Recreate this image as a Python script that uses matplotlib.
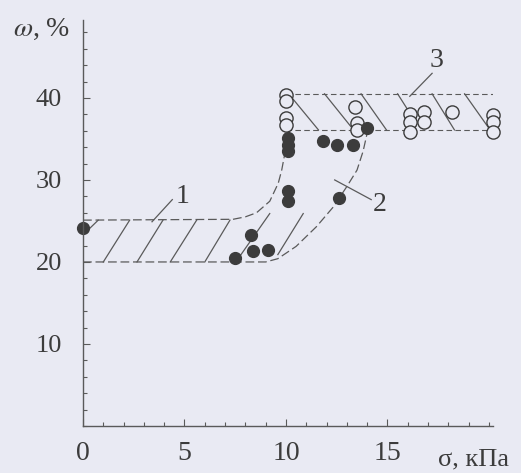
import matplotlib
matplotlib.use("Agg")
import matplotlib.pyplot as plt
from matplotlib.ticker import MultipleLocator
from matplotlib.transforms import blended_transform_factory

plt.rc('font', family='Liberation Serif')
plt.rcParams['mathtext.fontset'] = 'stix'

# measured points (sigma, kPa ; omega, %)
filled_x = [0.0, 7.5, 8.3, 8.4, 9.1, 10.1, 10.1, 10.1, 10.1, 10.1, 11.8, 12.5, 13.3, 14.0, 12.6]
filled_y = [24.1, 20.5, 23.3, 21.3, 21.5, 35.1, 34.3, 33.5, 28.6, 27.4, 34.7, 34.3, 34.3, 36.3, 27.8]

open_x = [10.0, 10.0, 10.0, 10.0, 13.4, 13.5, 13.5, 16.1, 16.1, 16.1, 16.8, 16.8, 18.2, 20.2, 20.2, 20.2]
open_y = [40.4, 39.6, 37.5, 36.7, 38.9, 37.0, 36.1, 38.1, 37.1, 35.9, 38.3, 37.1, 38.3, 37.9, 37.1, 35.9]

# zone 1 + 2 boundaries
upper_x = [0.0, 7.39, 8.0, 8.55, 9.2, 9.62, 9.79, 9.95, 10.05]
upper_y = [25.1, 25.2, 25.5, 26.0, 27.4, 29.6, 31.2, 33.3, 34.9]
lower_x = [0.0, 9.0, 9.6, 10.5, 11.5, 12.33, 13.0, 13.5, 13.8, 14.0]
lower_y = [20.0, 20.0, 20.4, 21.9, 24.3, 26.7, 29.2, 31.2, 33.5, 35.7]

# zone 3 boundaries
zone3_x = [10.0, 20.2]
zone3_top = [40.5, 40.5]
zone3_bot = [36.1, 36.1]

# hatch strokes: (x0, y0, x1, y1)
hatch_12 = [(0.0, 23.3, 0.75, 25.1), (1.0, 20.0, 2.3, 25.1), (2.66, 20.0, 3.94, 25.1),
            (4.3, 20.0, 5.6, 25.1), (6.0, 20.0, 7.24, 25.1), (7.7, 20.6, 9.2, 25.9),
            (9.6, 20.9, 10.85, 25.9)]
hatch_3 = [(10.2, 40.3, 11.6, 36.1), (11.9, 40.5, 13.2, 36.5), (13.7, 40.5, 14.95, 36.1),
           (15.5, 40.5, 16.4, 37.0), (17.2, 40.5, 18.3, 36.1), (18.8, 40.5, 20.0, 36.3)]

# curve numbers and leaders
labels = ['1', '2', '3']
label_x = [4.9, 14.6, 17.4]
label_y = [28.0, 27.0, 44.6]
leaders = [(3.4, 24.9, 4.4, 27.6), (12.4, 30.0, 14.2, 27.6), (16.1, 40.2, 17.2, 43.0)]

bg = '#e9eaf3'
ink = '#3c3c3c'
line_c = '#5a5a5a'

fig = plt.figure(figsize=(5.21, 4.73), dpi=100, facecolor=bg)
ax = fig.add_axes([83/521, 47/473, 410/521, 406/473], facecolor=bg)
ax.set_xlim(0, 20.2)
ax.set_ylim(0, 49.5)

for s in ['top', 'right']:
    ax.spines[s].set_visible(False)
for s in ['left', 'bottom']:
    ax.spines[s].set_color(line_c)
    ax.spines[s].set_linewidth(1.0)

ax.xaxis.set_major_locator(MultipleLocator(5))
ax.xaxis.set_minor_locator(MultipleLocator(1))
ax.yaxis.set_major_locator(MultipleLocator(10))
ax.yaxis.set_minor_locator(MultipleLocator(2))
ax.tick_params(which='both', direction='in', color=line_c, width=0.8, labelcolor=ink)
ax.tick_params(which='major', length=5)
ax.tick_params(which='minor', length=3)
ax.tick_params(axis='x', labelsize=20, pad=11)
ax.tick_params(axis='y', labelsize=19, pad=15)
ax.set_yticks([10, 20, 30, 40])
ax.set_xticks([0, 5, 10, 15])

# zone boundaries
ax.plot(upper_x, upper_y, ls=(0, (7, 3)), color=line_c, lw=0.9)
ax.plot(lower_x, lower_y, ls=(0, (7, 3)), color=line_c, lw=0.9)
ax.plot(zone3_x, zone3_top, ls=(0, (5, 3)), color=line_c, lw=0.8)
ax.plot(zone3_x, zone3_bot, ls=(0, (5, 3)), color=line_c, lw=0.8)

for x0, y0, x1, y1 in hatch_12 + hatch_3:
    ax.plot([x0, x1], [y0, y1], color=line_c, lw=0.9)

for x0, y0, x1, y1 in leaders:
    ax.plot([x0, x1], [y0, y1], color=line_c, lw=0.9)
for t, x, y in zip(labels, label_x, label_y):
    ax.text(x, y, t, fontsize=20, color=ink, ha='center', va='center')

ax.plot(open_x, open_y, 'o', ms=9.5, mfc=bg, mec=ink, mew=1.0, clip_on=False)
ax.plot(filled_x, filled_y, 'o', ms=8.5, color=ink, clip_on=False)

ax.text(-0.10, 0.978, r'$\omega$, %', transform=ax.transAxes, fontsize=20,
        color=ink, ha='center', va='center')
trans = blended_transform_factory(ax.transData, ax.transAxes)
ax.text(17.5, -0.082, 'σ, кПа', transform=trans, fontsize=19, color=ink,
        ha='left', va='center')

fig.savefig('out.png', dpi=100, facecolor=bg)
